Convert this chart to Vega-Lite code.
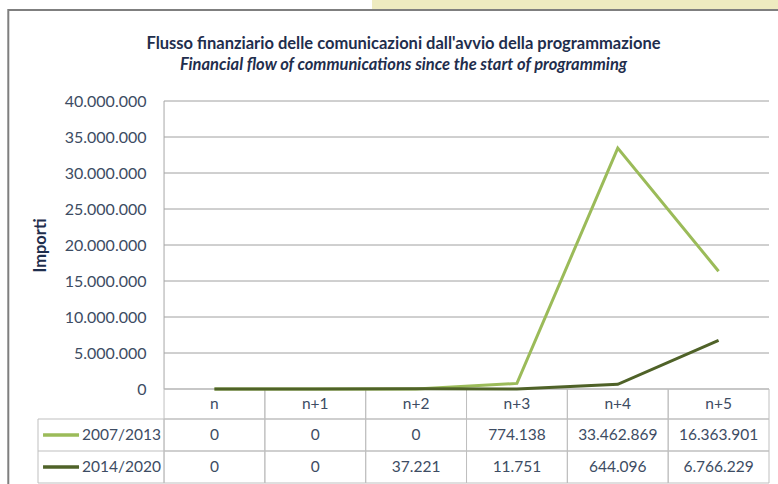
{
  "$schema": "https://vega.github.io/schema/vega-lite/v6.json",
  "width": 731,
  "height": 382,
  "autosize": {"type": "none"},
  "padding": {"left": 38, "top": 101, "right": 9, "bottom": 1},
  "background": "white",
  "config": {
    "view": {"stroke": null},
    "font": "Lato",
    "locale": {"number": {"decimal": ",", "thousands": ".", "grouping": [3], "currency": ["€", ""]}}
  },
  "title": {
    "text": "Flusso finanziario  delle comunicazioni dall'avvio della programmazione",
    "subtitle": "Financial flow of communications since the start of programming",
    "frame": "group",
    "anchor": "middle",
    "font": "Lato",
    "fontSize": 16.5,
    "fontWeight": "bold",
    "color": "#1F2E4D",
    "subtitleFont": "Lato",
    "subtitleFontSize": 16.5,
    "subtitleFontStyle": "italic",
    "subtitleFontWeight": "bold",
    "subtitleColor": "#1F2E4D",
    "subtitlePadding": 5,
    "offset": 0,
    "dy": 74
  },
  "datasets": {
    "flows": [
      {"series": "2007/2013", "period": "n", "offset": 0, "value": 0},
      {"series": "2007/2013", "period": "n+1", "offset": 1, "value": 0},
      {"series": "2007/2013", "period": "n+2", "offset": 2, "value": 0},
      {"series": "2007/2013", "period": "n+3", "offset": 3, "value": 774138},
      {"series": "2007/2013", "period": "n+4", "offset": 4, "value": 33462869},
      {"series": "2007/2013", "period": "n+5", "offset": 5, "value": 16363901},
      {"series": "2014/2020", "period": "n", "offset": 0, "value": 0},
      {"series": "2014/2020", "period": "n+1", "offset": 1, "value": 0},
      {"series": "2014/2020", "period": "n+2", "offset": 2, "value": 37221},
      {"series": "2014/2020", "period": "n+3", "offset": 3, "value": 11751},
      {"series": "2014/2020", "period": "n+4", "offset": 4, "value": 644096},
      {"series": "2014/2020", "period": "n+5", "offset": 5, "value": 6766229}
    ],
    "ticks": [
      {"v": 0}, {"v": 5000000}, {"v": 10000000}, {"v": 15000000}, {"v": 20000000},
      {"v": 25000000}, {"v": 30000000}, {"v": 35000000}, {"v": 40000000}
    ]
  },
  "layer": [
    {
      "data": {"values": [{}]},
      "mark": {"type": "rect", "fill": "#EEEBC0"},
      "encoding": {
        "x": {"datum": 1.563, "type": "quantitative", "axis": null},
        "x2": {"datum": 8},
        "y": {"datum": 52640000, "type": "quantitative", "title": "Importi"},
        "y2": {"datum": 54028000}
      }
    },
    {
      "data": {"values": [{}]},
      "mark": {"type": "rect", "filled": false, "stroke": "#7F7F7F", "strokeWidth": 2},
      "encoding": {
        "x": {"datum": -2.0446, "type": "quantitative", "axis": null},
        "x2": {"datum": 8},
        "y": {"datum": 52640000, "type": "quantitative", "title": "Importi"},
        "y2": {"datum": -30000000}
      }
    },
    {
      "data": {"name": "ticks"},
      "mark": {"type": "rule", "stroke": "#A0A0A0", "strokeWidth": 1},
      "encoding": {
        "x": {"datum": -0.5, "type": "quantitative", "axis": null},
        "x2": {"datum": 5.5},
        "y": {"field": "v", "type": "quantitative", "title": "Importi"}
      }
    },
    {
      "data": {"values": [{}]},
      "mark": {"type": "rule", "stroke": "#A8A8A8", "strokeWidth": 1},
      "encoding": {
        "x": {"datum": -0.5, "type": "quantitative", "axis": null},
        "y": {"datum": 0, "type": "quantitative", "title": "Importi"},
        "y2": {"datum": 40000000}
      }
    },
    {
      "data": {"values": [{}]},
      "mark": {"type": "rect", "filled": false, "stroke": "#BFBFBF", "strokeWidth": 1},
      "encoding": {
        "x": {"datum": -1.75, "type": "quantitative", "axis": null},
        "x2": {"datum": -0.5},
        "y": {"datum": -4166667, "type": "quantitative", "title": "Importi"},
        "y2": {"datum": -13055556}
      }
    },
    {
      "data": {"values": [{}]},
      "mark": {"type": "rule", "stroke": "#BFBFBF", "strokeWidth": 1},
      "encoding": {
        "x": {"datum": -1.75, "type": "quantitative", "axis": null},
        "x2": {"datum": -0.5},
        "y": {"datum": -8611111, "type": "quantitative", "title": "Importi"}
      }
    },
    {
      "data": {"name": "flows"},
      "transform": [
        {"filter": "datum.series === '2007/2013'"},
        {"calculate": "datum.offset - 0.5", "as": "lo"},
        {"calculate": "datum.offset + 0.5", "as": "hi"}
      ],
      "mark": {"type": "rect", "filled": false, "stroke": "#BFBFBF", "strokeWidth": 1},
      "encoding": {
        "x": {"field": "lo", "type": "quantitative", "axis": null},
        "x2": {"field": "hi"},
        "y": {"datum": 0, "type": "quantitative", "title": "Importi"},
        "y2": {"datum": -4166667}
      }
    },
    {
      "data": {"name": "flows"},
      "transform": [{"filter": "datum.series === '2007/2013'"}],
      "mark": {"type": "text", "fontSize": 15.5, "font": "Lato", "color": "#3D4C63", "baseline": "middle"},
      "encoding": {
        "x": {"field": "offset", "type": "quantitative", "axis": null},
        "y": {"datum": -2083333, "type": "quantitative", "title": "Importi"},
        "text": {"field": "period"}
      }
    },
    {
      "data": {"name": "flows"},
      "transform": [
        {"filter": "datum.series === '2007/2013'"},
        {"calculate": "datum.offset - 0.5", "as": "lo"},
        {"calculate": "datum.offset + 0.5", "as": "hi"}
      ],
      "mark": {"type": "rect", "filled": false, "stroke": "#BFBFBF", "strokeWidth": 1},
      "encoding": {
        "x": {"field": "lo", "type": "quantitative", "axis": null},
        "x2": {"field": "hi"},
        "y": {"datum": -4166667, "type": "quantitative", "title": "Importi"},
        "y2": {"datum": -8611111}
      }
    },
    {
      "data": {"name": "flows"},
      "transform": [{"filter": "datum.series === '2007/2013'"}],
      "mark": {"type": "text", "fontSize": 15.5, "font": "Lato", "color": "#3D4C63", "baseline": "middle"},
      "encoding": {
        "x": {"field": "offset", "type": "quantitative", "axis": null},
        "y": {"datum": -6388889, "type": "quantitative", "title": "Importi"},
        "text": {"field": "value", "type": "quantitative", "format": ",d"}
      }
    },
    {
      "data": {"name": "flows"},
      "transform": [
        {"filter": "datum.series === '2014/2020'"},
        {"calculate": "datum.offset - 0.5", "as": "lo"},
        {"calculate": "datum.offset + 0.5", "as": "hi"}
      ],
      "mark": {"type": "rect", "filled": false, "stroke": "#BFBFBF", "strokeWidth": 1},
      "encoding": {
        "x": {"field": "lo", "type": "quantitative", "axis": null},
        "x2": {"field": "hi"},
        "y": {"datum": -8611111, "type": "quantitative", "title": "Importi"},
        "y2": {"datum": -13055556}
      }
    },
    {
      "data": {"name": "flows"},
      "transform": [{"filter": "datum.series === '2014/2020'"}],
      "mark": {"type": "text", "fontSize": 15.5, "font": "Lato", "color": "#3D4C63", "baseline": "middle"},
      "encoding": {
        "x": {"field": "offset", "type": "quantitative", "axis": null},
        "y": {"datum": -10833333, "type": "quantitative", "title": "Importi"},
        "text": {"field": "value", "type": "quantitative", "format": ",d"}
      }
    },
    {
      "data": {"name": "flows"},
      "transform": [{"filter": "datum.series === '2007/2013' && datum.offset === 0"}],
      "mark": {"type": "rule", "strokeWidth": 3.5, "stroke": "#9BBB59"},
      "encoding": {
        "x": {"datum": -1.7, "type": "quantitative", "axis": null},
        "x2": {"datum": -1.343},
        "y": {"datum": -6388889, "type": "quantitative", "title": "Importi"}
      }
    },
    {
      "data": {"name": "flows"},
      "transform": [{"filter": "datum.series === '2007/2013' && datum.offset === 0"}],
      "mark": {"type": "text", "fontSize": 15.5, "font": "Lato", "color": "#3D4C63", "baseline": "middle", "align": "right"},
      "encoding": {
        "x": {"datum": -0.53, "type": "quantitative", "axis": null},
        "y": {"datum": -6388889, "type": "quantitative", "title": "Importi"},
        "text": {"field": "series"}
      }
    },
    {
      "data": {"name": "flows"},
      "transform": [{"filter": "datum.series === '2014/2020' && datum.offset === 0"}],
      "mark": {"type": "rule", "strokeWidth": 3.5, "stroke": "#4F6228"},
      "encoding": {
        "x": {"datum": -1.7, "type": "quantitative", "axis": null},
        "x2": {"datum": -1.343},
        "y": {"datum": -10833333, "type": "quantitative", "title": "Importi"}
      }
    },
    {
      "data": {"name": "flows"},
      "transform": [{"filter": "datum.series === '2014/2020' && datum.offset === 0"}],
      "mark": {"type": "text", "fontSize": 15.5, "font": "Lato", "color": "#3D4C63", "baseline": "middle", "align": "right"},
      "encoding": {
        "x": {"datum": -0.53, "type": "quantitative", "axis": null},
        "y": {"datum": -10833333, "type": "quantitative", "title": "Importi"},
        "text": {"field": "series"}
      }
    },
    {
      "data": {"name": "flows"},
      "mark": {"type": "line", "strokeWidth": 3, "strokeJoin": "miter"},
      "encoding": {
        "x": {"field": "offset", "type": "quantitative", "axis": null, "scale": {"domain": [-1.75, 5.5], "nice": false, "zero": false}},
        "y": {
          "field": "value",
          "type": "quantitative",
          "title": "Importi",
          "scale": {"domain": [-13055556, 40000000], "nice": false, "zero": false},
          "axis": {
            "values": [0, 5000000, 10000000, 15000000, 20000000, 25000000, 30000000, 35000000, 40000000],
            "format": ",d",
            "offset": -126,
            "domain": false,
            "ticks": false,
            "grid": false,
            "labelPadding": 18,
            "labelFont": "Lato",
            "labelFontSize": 16,
            "labelColor": "#3D4C63",
            "title": "Importi",
            "titleFont": "Lato",
            "titleFontSize": 16.5,
            "titleFontWeight": "bold",
            "titleColor": "#1F2E4D",
            "titleAngle": -90,
            "titleAlign": "center",
            "titleBaseline": "alphabetic",
            "titleX": -119,
            "titleY": 144
          }
        },
        "color": {"field": "series", "type": "nominal", "legend": null, "scale": {"domain": ["2007/2013", "2014/2020"], "range": ["#9BBB59", "#4F6228"]}}
      }
    }
  ]
}
